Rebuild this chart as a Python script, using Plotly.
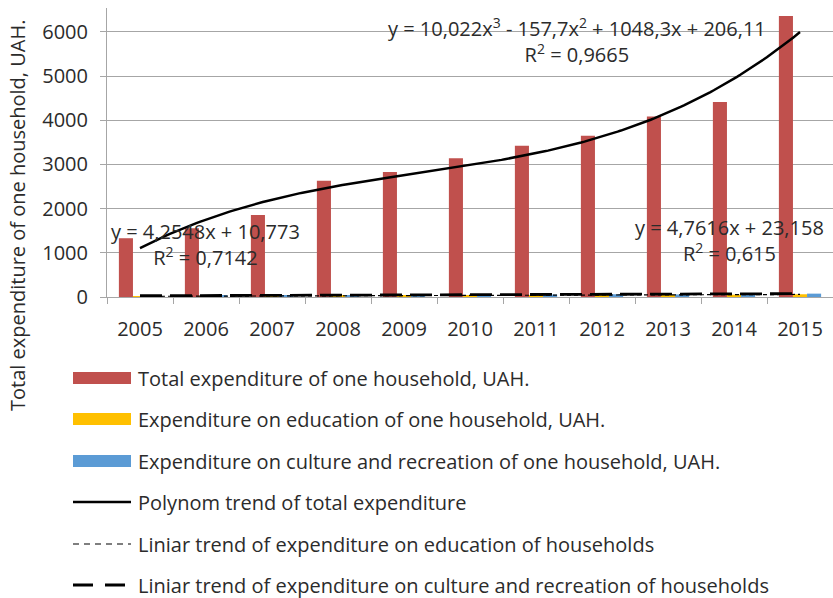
import numpy as np
import plotly.graph_objects as go

years = ["2005", "2006", "2007", "2008", "2009", "2010", "2011", "2012", "2013", "2014", "2015"]
total_exp = [1330, 1555, 1855, 2630, 2830, 3140, 3420, 3650, 4085, 4410, 6360]
education_exp = [14, 20, 24, 30, 30, 36, 38, 44, 48, 53, 62]
culture_exp = [30, 35, 40, 45, 48, 52, 55, 62, 58, 68, 76]

# trend-line equations as printed on the chart (x = 1..11)
poly_coef = [10.022, -157.7, 1048.3, 206.11]
edu_coef = [4.2548, 10.773]
cult_coef = [4.7616, 23.158]

names = [
    "Total expenditure of one household, UAH.",
    "Expenditure on education of one household, UAH.",
    "Expenditure on culture and recreation of one household, UAH.",
    "Polynom trend of total expenditure",
    "Liniar trend of expenditure on education of households",
    "Liniar trend of expenditure on culture and recreation of households",
]
colors = ["#C0504D", "#FFC000", "#5B9BD5"]

pos = np.arange(1, len(years) + 1)
xs = np.linspace(1, len(years), 200)

W, H = 833, 598
L, R, T, B = 107, 833, 8, 297
FONT = "Open Sans"
FS = 20
TXT = "#2b2b2b"
GRID = "#a6a6a6"


def px(x):
    return (x - L) / (R - L)


def py(y):
    return (B - y) / (B - T)


fig = go.Figure()
for vals, c, n in zip([total_exp, education_exp, culture_exp], colors, names[:3]):
    fig.add_trace(go.Bar(x=pos, y=vals, marker=dict(color=c, line=dict(width=0)), name=n))

fig.add_trace(go.Scatter(x=xs, y=np.polyval(poly_coef, xs), mode="lines",
                         line=dict(color="black", width=2.5), name=names[3]))
fig.add_trace(go.Scatter(x=pos, y=np.polyval(edu_coef, pos), mode="lines",
                         line=dict(color="black", width=1.2, dash="4px,3px"), name=names[4]))
fig.add_trace(go.Scatter(x=pos, y=np.polyval(cult_coef, pos), mode="lines",
                         line=dict(color="black", width=2.8, dash="22px,8px"), name=names[5]))

annotations = [
    dict(text="y = 10,022x<sup>3</sup> - 157,7x<sup>2</sup> + 1048,3x + 206,11<br>R<sup>2</sup> = 0,9665",
         x=px(577), y=py(40), xanchor="center", yanchor="middle"),
    dict(text="y = 4,2548x + 10,773<br>R<sup>2</sup> = 0,7142",
         x=px(205), y=py(244), xanchor="center", yanchor="middle"),
    dict(text="y = 4,7616x + 23,158<br>R<sup>2</sup> = 0,615",
         x=px(729), y=py(240), xanchor="center", yanchor="middle"),
    dict(text="Total expenditure of one household, UAH.", textangle=-90,
         x=px(18), y=py(216), xanchor="center", yanchor="middle"),
]
for a in annotations:
    a.update(xref="paper", yref="paper", showarrow=False, align="center",
             font=dict(family=FONT, size=FS, color=TXT))

shapes = []
rows = [378, 419, 461, 502, 544, 585]
sx0, sx1, tx = 73, 131, 136
for i, (n, yc) in enumerate(zip(names, rows)):
    if i < 3:
        shapes.append(dict(type="rect", xref="paper", yref="paper",
                           x0=px(sx0), x1=px(sx1), y0=py(yc - 6), y1=py(yc + 6),
                           fillcolor=colors[i], line=dict(width=0)))
    else:
        style = [dict(width=2.5, dash="solid"), dict(width=1.2, dash="6px,5px"),
                 dict(width=3, dash="20px,12px")][i - 3]
        shapes.append(dict(type="line", xref="paper", yref="paper",
                           x0=px(sx0), x1=px(sx1), y0=py(yc), y1=py(yc),
                           line=dict(color="black", **style)))
    annotations.append(dict(text=n, xref="paper", yref="paper", x=px(tx), y=py(yc),
                            xanchor="left", yanchor="middle", showarrow=False,
                            font=dict(family=FONT, size=FS, color=TXT)))

fig.update_layout(
    width=W, height=H,
    margin=dict(l=L, r=W - R, t=T, b=H - B),
    paper_bgcolor="white", plot_bgcolor="white",
    barmode="group", bargap=0.36, bargroupgap=0,
    showlegend=False,
    annotations=annotations, shapes=shapes,
    font=dict(family=FONT, size=FS, color=TXT),
    xaxis=dict(range=[0.5, len(years) + 0.5], tickvals=pos, ticktext=years,
               ticks="", showgrid=False, showline=True, linecolor=GRID, linewidth=1,
               zeroline=False, ticklabelstandoff=14,
               tickfont=dict(family=FONT, size=FS, color=TXT),
               minor=dict(tick0=0.5, dtick=1, ticks="outside", ticklen=6,
                          tickcolor=GRID, showgrid=False)),
    yaxis=dict(range=[0, 6540], tick0=0, dtick=1000, showgrid=True, gridcolor=GRID,
               gridwidth=1, showline=True, linecolor=GRID, linewidth=1,
               ticks="outside", ticklen=6, tickcolor=GRID, zeroline=False,
               ticklabelstandoff=8,
               tickfont=dict(family=FONT, size=FS, color=TXT)),
)

fig.write_html("out.html", config={"displayModeBar": False},
               post_script="document.body.style.margin='0px';document.body.style.overflow='hidden';")
